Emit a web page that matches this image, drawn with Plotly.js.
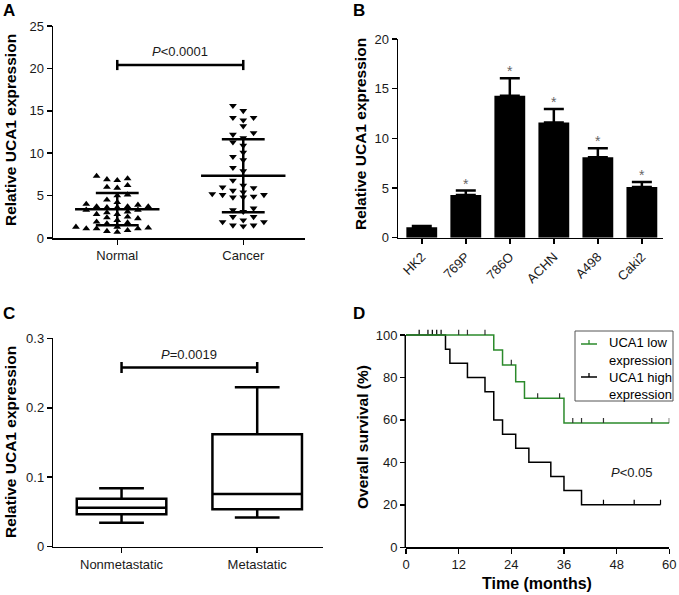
<!DOCTYPE html>
<html><head><meta charset="utf-8">
<script src="https://cdn.plot.ly/plotly-3.0.1.min.js"></script>
<style>html,body{margin:0;padding:0;background:#fff}#chart{width:679px;height:595px}</style>
</head><body><div id="chart"></div>
<script>
// ---------- Panel A data ----------
const groupsA = ['Normal', 'Cancer'];
const normalValues = [7.3, 6.9, 6.2, 6.8, 7.0, 5.9, 6.0, 5.0, 5.1, 4.5, 3.7, 3.7, 3.6, 3.9, 4.0, 3.7, 3.3, 3.6, 3.3, 3.1,
                      2.8, 3.0, 2.8, 2.4, 2.1, 2.3, 2.5, 1.8, 1.7, 1.9, 1.3, 1.1, 1.2, 0.9, 0.7, 1.1, 1.1, 1.3, 4.2, 0.8];
const cancerValues = [15.6, 15.0, 14.2, 13.9, 14.2, 13.2, 12.4, 12.2, 11.8, 11.3, 10.9, 10.1, 9.6, 9.2, 8.3, 7.9, 6.8, 6.2, 5.9, 6.0,
                      5.6, 5.1, 5.1, 4.8, 5.4, 4.8, 4.9, 5.2, 3.5, 3.3, 3.1, 2.5, 2.5, 2.1, 1.9, 1.9, 1.5, 1.5, 1.4];
const meanA = [3.4, 7.35];
const sdA = [1.9, 4.3];
const bracketA = [20.4];
const pTextA = ['<i>P</i>&lt;0.0001'];

// ---------- Panel B data ----------
const cellLines = ['HK2', '769P', '786O', 'ACHN', 'A498', 'Caki2'];
const cellMeans = [1.05, 4.3, 14.3, 11.6, 8.1, 5.1];
const cellErr = [0.12, 0.45, 1.75, 1.35, 0.9, 0.5];
const cellStars = ['', '*', '*', '*', '*', '*'];

// ---------- Panel C data ----------
const metGroups = ['Nonmetastatic', 'Metastatic'];
const boxLower = [0.0346, 0.0422];
const boxQ1 = [0.0466, 0.0538];
const boxMedian = [0.056, 0.0758];
const boxQ3 = [0.069, 0.162];
const boxUpper = [0.084, 0.2295];
const bracketC = [0.258];
const pTextC = ['<i>P</i>=0.0019'];

// ---------- Panel D data ----------
const lowStepT = [0, 20, 22, 25, 27, 36, 60];
const lowStepS = [100, 92.9, 85.9, 78.0, 70.2, 58.5, 58.5];
const lowCensorT = [12, 14, 18, 24, 30, 35, 38, 40, 45, 56, 60];
const highStepT = [0, 9, 10, 14, 18, 20, 22, 25, 28, 33, 36, 40, 58];
const highStepS = [100, 93.3, 86.7, 80.0, 73.3, 60.0, 53.3, 46.7, 40.0, 33.3, 26.7, 20.0, 20.0];
const highCensorT = [3, 5, 6, 7, 8, 45, 52, 58];
const survNames = ['UCA1 low', 'UCA1 high'];
const pTextD = ['<i>P</i>&lt;0.05'];

// ---------- helpers ----------
const FONT = '"Liberation Sans", Arial, Helvetica, sans-serif';
const W = 679, H = 595;
const px = x => x / W;
const py = y => 1 - y / H;
const GREEN = '#2b8a2b';

function swarm(values, center, dx, thr) {
  const order = values.map((v, i) => i).sort((a, b) => values[a] - values[b]);
  const placed = [];
  const xs = new Array(values.length);
  order.forEach(i => {
    const v = values[i];
    for (let n = 0; n < 40; n++) {
      const k = n === 0 ? 0 : (n % 2 ? -Math.ceil(n / 2) : Math.ceil(n / 2));
      if (!placed.some(p => p.k === k && Math.abs(p.v - v) < thr)) {
        placed.push({ v, k }); xs[i] = center + k * dx; break;
      }
    }
  });
  return xs;
}
function summaryLines(means, sds, halfMean, halfCap) {
  const x = [], y = [];
  means.forEach((m, i) => {
    const s = sds[i];
    x.push(i - halfMean, i + halfMean, null, i - halfCap, i + halfCap, null, i - halfCap, i + halfCap, null, i, i, null);
    y.push(m, m, null, m + s, m + s, null, m - s, m - s, null, m - s, m + s, null);
  });
  return { x, y };
}
function survAt(ts, ss, t) { let s = ss[0]; for (let i = 0; i < ts.length; i++) if (ts[i] <= t) s = ss[i]; return s; }
function censorTicks(ts, steps, surv, h) {
  const x = [], y = [];
  ts.forEach(t => { const s = survAt(steps, surv, t); x.push(t, t, null); y.push(s, s + h, null); });
  return { x, y };
}

const sumA = summaryLines(meanA, sdA, 0.335, 0.17);
const hiTicks = censorTicks(highCensorT, highStepT, highStepS, 2.4);
const loTicks = censorTicks(lowCensorT, lowStepT, lowStepS, 2.4);

const traces = [
  { type: 'scatter', mode: 'markers', x: swarm(normalValues, 0, 0.082, 0.6), y: normalValues,
    marker: { symbol: 'triangle-up', size: 6.8, color: '#000' }, xaxis: 'x', yaxis: 'y', hoverinfo: 'skip' },
  { type: 'scatter', mode: 'markers', x: swarm(cancerValues, 1, 0.082, 0.6), y: cancerValues,
    marker: { symbol: 'triangle-down', size: 6.8, color: '#000' }, xaxis: 'x', yaxis: 'y', hoverinfo: 'skip' },
  { type: 'scatter', mode: 'lines', x: sumA.x, y: sumA.y, line: { color: '#000', width: 2.5 }, xaxis: 'x', yaxis: 'y', hoverinfo: 'skip' },
  { type: 'scatter', mode: 'lines', x: [0, 0, null, 0, 1, null, 1, 1],
    y: [bracketA[0] - 0.6, bracketA[0] + 0.6, null, bracketA[0], bracketA[0], null, bracketA[0] - 0.6, bracketA[0] + 0.6],
    line: { color: '#000', width: 2.5 }, xaxis: 'x', yaxis: 'y', hoverinfo: 'skip' },
  // B
  { type: 'bar', x: cellLines, y: cellMeans, width: 0.7, marker: { color: '#000' },
    error_y: { type: 'data', symmetric: false, array: cellErr, arrayminus: cellErr.map(() => 0), color: '#000', thickness: 2.5, width: 10 },
    xaxis: 'x2', yaxis: 'y2', hoverinfo: 'skip' },
  // C
  { type: 'box', x: metGroups, q1: boxQ1, median: boxMedian, q3: boxQ3, lowerfence: boxLower, upperfence: boxUpper,
    width: 0.66, whiskerwidth: 0.5, fillcolor: '#fff', line: { color: '#000', width: 2.5 }, boxpoints: false,
    xaxis: 'x3', yaxis: 'y3', hoverinfo: 'skip' },
  { type: 'scatter', mode: 'lines', x: [metGroups[0], metGroups[0], null, metGroups[0], metGroups[1], null, metGroups[1], metGroups[1]],
    y: [bracketC[0] - 0.0078, bracketC[0] + 0.0078, null, bracketC[0], bracketC[0], null, bracketC[0] - 0.0078, bracketC[0] + 0.0078],
    line: { color: '#000', width: 2.5 }, xaxis: 'x3', yaxis: 'y3', hoverinfo: 'skip' },
  // D
  { type: 'scatter', mode: 'lines', x: highStepT, y: highStepS, line: { color: '#000', width: 1.5, shape: 'hv' }, xaxis: 'x4', yaxis: 'y4', hoverinfo: 'skip' },
  { type: 'scatter', mode: 'lines', x: hiTicks.x, y: hiTicks.y, line: { color: '#000', width: 1.2 }, xaxis: 'x4', yaxis: 'y4', hoverinfo: 'skip' },
  { type: 'scatter', mode: 'lines', x: lowStepT, y: lowStepS, line: { color: GREEN, width: 1.5, shape: 'hv' }, xaxis: 'x4', yaxis: 'y4', hoverinfo: 'skip' },
  { type: 'scatter', mode: 'lines', x: loTicks.x, y: loTicks.y, line: { color: '#333', width: 1.2 }, xaxis: 'x4', yaxis: 'y4', hoverinfo: 'skip' }
];

const axBase = {
  showline: true, linecolor: '#000', linewidth: 1.5, ticks: 'outside', ticklen: 5, tickwidth: 1.5, tickcolor: '#000',
  showgrid: false, zeroline: false, fixedrange: true, tickfont: { family: FONT, size: 13, color: '#1a1a1a' }
};
const ax = o => Object.assign({}, axBase, o);

const layout = {
  width: W, height: H, margin: { l: 0, r: 0, t: 0, b: 0 }, showlegend: false,
  paper_bgcolor: '#fff', plot_bgcolor: 'rgba(0,0,0,0)', font: { family: FONT, color: '#000' },
  xaxis: ax({ domain: [px(53), px(305)], anchor: 'y', type: 'linear', range: [-0.51, 1.49], tickvals: [0, 1], ticktext: groupsA }),
  yaxis: ax({ domain: [py(238), py(26)], anchor: 'x', range: [0, 25], dtick: 5 }),
  xaxis2: ax({ domain: [px(398), px(663)], anchor: 'y2', type: 'category', range: [-0.54, 5.48], tickangle: -45 }),
  yaxis2: ax({ domain: [py(237.7), py(39)], anchor: 'x2', range: [0, 20], dtick: 5 }),
  xaxis3: ax({ domain: [px(53.3), px(323)], anchor: 'y3', type: 'category', range: [-0.503, 1.485] }),
  yaxis3: ax({ domain: [py(546.7), py(338.3)], anchor: 'x3', range: [0, 0.3], tickvals: [0, 0.1, 0.2, 0.3], ticktext: ['0', '0.1', '0.2', '0.3'] }),
  xaxis4: ax({ domain: [px(406), px(669.3)], anchor: 'y4', range: [0, 60], tickvals: [0, 12, 24, 36, 48, 60] }),
  yaxis4: ax({ domain: [py(547.3), py(328.6)], anchor: 'x4', range: [0, 103], tickvals: [0, 20, 40, 60, 80, 100], showline: false }),
  shapes: [
    // y-axis line of panel D (stops at 100 %)
    { type: 'line', xref: 'paper', yref: 'paper', x0: px(405.25), x1: px(405.25), y0: py(548), y1: py(335), line: { color: '#000', width: 1.5 } },
    // manual legend for panel D
    { type: 'rect', xref: 'paper', yref: 'paper', x0: px(575), x1: px(673), y0: py(401), y1: py(331), line: { color: '#555', width: 1 } },
    { type: 'line', xref: 'paper', yref: 'paper', x0: px(581), x1: px(597), y0: py(344), y1: py(344), line: { color: GREEN, width: 1.5 } },
    { type: 'line', xref: 'paper', yref: 'paper', x0: px(589), x1: px(589), y0: py(344), y1: py(340), line: { color: GREEN, width: 1.3 } },
    { type: 'line', xref: 'paper', yref: 'paper', x0: px(581), x1: px(597), y0: py(377), y1: py(377), line: { color: '#000', width: 1.5 } },
    { type: 'line', xref: 'paper', yref: 'paper', x0: px(589), x1: px(589), y0: py(377), y1: py(373), line: { color: '#000', width: 1.3 } }
  ],
  annotations: []
};

const ann = layout.annotations;
function paperText(text, x, y, size, opts) {
  ann.push(Object.assign({ xref: 'paper', yref: 'paper', x: px(x), y: py(y), text, showarrow: false,
    xanchor: 'center', yanchor: 'middle', font: { family: FONT, size, color: '#000' } }, opts || {}));
}
// panel letters
paperText('<b>A</b>', 8.5, 10, 17);
paperText('<b>B</b>', 358.5, 10, 17);
paperText('<b>C</b>', 8.5, 313.5, 17);
paperText('<b>D</b>', 358.5, 313.5, 17);
// axis titles
paperText('<b>Relative UCA1 expression</b>', 10, 130, 15.5, { textangle: -90 });
paperText('<b>Relative UCA1 expression</b>', 360, 134, 15.5, { textangle: -90 });
paperText('<b>Relative UCA1 expression</b>', 10, 442, 15.5, { textangle: -90 });
paperText('<b>Overall survival (%)</b>', 362, 437, 15.5, { textangle: -90 });
paperText('<b>Time (months)</b>', 537, 583, 16);
// legend text
paperText(survNames[0], 607, 343, 13, { xanchor: 'left' });
paperText('expression', 607, 360, 13, { xanchor: 'left' });
paperText(survNames[1], 607, 377, 13, { xanchor: 'left' });
paperText('expression', 607, 394, 13, { xanchor: 'left' });
// p-values
ann.push({ xref: 'x', yref: 'y', x: 0.5, y: 22.0, text: pTextA[0], showarrow: false, font: { family: FONT, size: 13, color: '#1a1a1a' } });
ann.push({ xref: 'x3', yref: 'y3', x: 0.5, y: 0.276, text: pTextC[0], showarrow: false, font: { family: FONT, size: 13, color: '#1a1a1a' } });
ann.push({ xref: 'x4', yref: 'y4', x: 51.4, y: 35, text: pTextD[0], showarrow: false, font: { family: FONT, size: 13, color: '#1a1a1a' } });
// asterisks
cellLines.forEach((c, i) => {
  if (cellStars[i]) ann.push({ xref: 'x2', yref: 'y2', x: c, y: cellMeans[i] + cellErr[i], text: cellStars[i], showarrow: false,
    yanchor: 'bottom', yshift: -3, font: { family: FONT, size: 14, color: '#666' } });
});

Plotly.newPlot('chart', traces, layout, { displayModeBar: false, staticPlot: true });
</script>
</body></html>
